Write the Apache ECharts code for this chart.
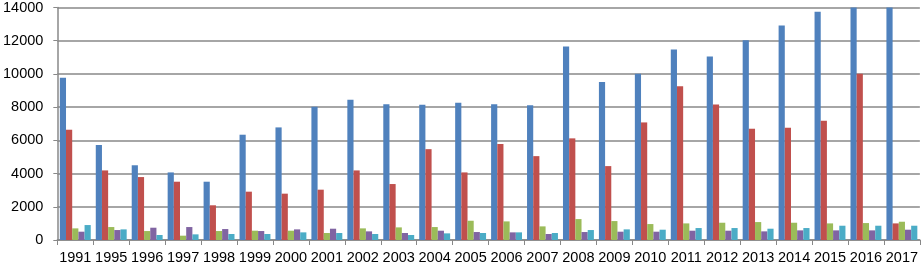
<!DOCTYPE html>
<html>
<head>
<meta charset="utf-8">
<script src="https://cdn.jsdelivr.net/npm/echarts@6/dist/echarts.min.js"></script>
<style>
  html, body { margin: 0; padding: 0; background: #fff; }
  #chart { width: 921px; height: 268px; }
</style>
</head>
<body>
<div id="chart"></div>
<script>
// categories (years)
var years = ['1991', '1995', '1996', '1997', '1998', '1999', '2000', '2001', '2002', '2003', '2004', '2005',
             '2006', '2007', '2008', '2009', '2010', '2011', '2012', '2013', '2014', '2015', '2016', '2017'];

// five unnamed series
var blueVals   = [9770, 5720, 4500, 4070, 3510, 6340, 6780, 8020, 8440, 8180, 8140, 8260,
                  8180, 8120, 11650, 9510, 10010, 11470, 11050, 12030, 12910, 13740, 14600, 14800];
var redVals    = [6640, 4190, 3790, 3510, 2090, 2910, 2790, 3030, 4190, 3370, 5470, 4070,
                  5780, 5050, 6120, 4450, 7080, 9260, 8160, 6700, 6760, 7180, 10010, 1000];
var greenVals  = [700, 780, 540, 260, 540, 560, 560, 420, 700, 760, 780, 1160,
                  1120, 820, 1260, 1140, 960, 1000, 1040, 1080, 1040, 1000, 1020, 1100];
var purpleVals = [500, 600, 740, 780, 660, 540, 640, 680, 520, 420, 560, 480,
                  460, 360, 480, 500, 500, 560, 560, 520, 580, 580, 580, 620];
var cyanVals   = [900, 640, 300, 340, 360, 360, 460, 420, 360, 300, 400, 420,
                  460, 420, 600, 640, 620, 720, 720, 680, 720, 860, 860, 860];

var yTicks = [0, 2000, 4000, 6000, 8000, 10000, 12000, 14000];

var colors = ['#4F81BD', '#C0504D', '#9BBB59', '#8064A2', '#4BACC6'];
var seriesData = [blueVals, redVals, greenVals, purpleVals, cyanVals];

var chart = echarts.init(document.getElementById('chart'));

var series = seriesData.map(function (vals, i) {
    return {
        type: 'bar',
        data: vals,
        barGap: '0%',
        barCategoryGap: '14%',
        clip: true,
        itemStyle: { color: colors[i] },
        animation: false
    };
});

chart.setOption({
    animation: false,
    grid: { left: 57, right: 1, top: 6, bottom: 28 },
    xAxis: {
        type: 'category',
        data: years,
        axisLine: { lineStyle: { color: '#888', width: 1.5 } },
        axisTick: { show: true, length: 5, interval: 0, lineStyle: { color: '#888' } },
        axisLabel: {
            interval: 0,
            margin: 10,
            color: '#000',
            fontFamily: 'Liberation Sans',
            fontSize: 14.5
        }
    },
    yAxis: {
        type: 'value',
        min: yTicks[0],
        max: yTicks[yTicks.length - 1],
        interval: 2000,
        axisLine: { show: true, lineStyle: { color: '#888', width: 1.5 } },
        axisTick: { show: true, length: 4, lineStyle: { color: '#888' } },
        splitLine: { lineStyle: { color: '#888', width: 1.5 } },
        axisLabel: {
            margin: 14,
            color: '#000',
            fontFamily: 'Liberation Sans',
            fontSize: 14.5,
            formatter: function (v) { return String(v); }
        }
    },
    series: series
});
</script>
</body>
</html>
